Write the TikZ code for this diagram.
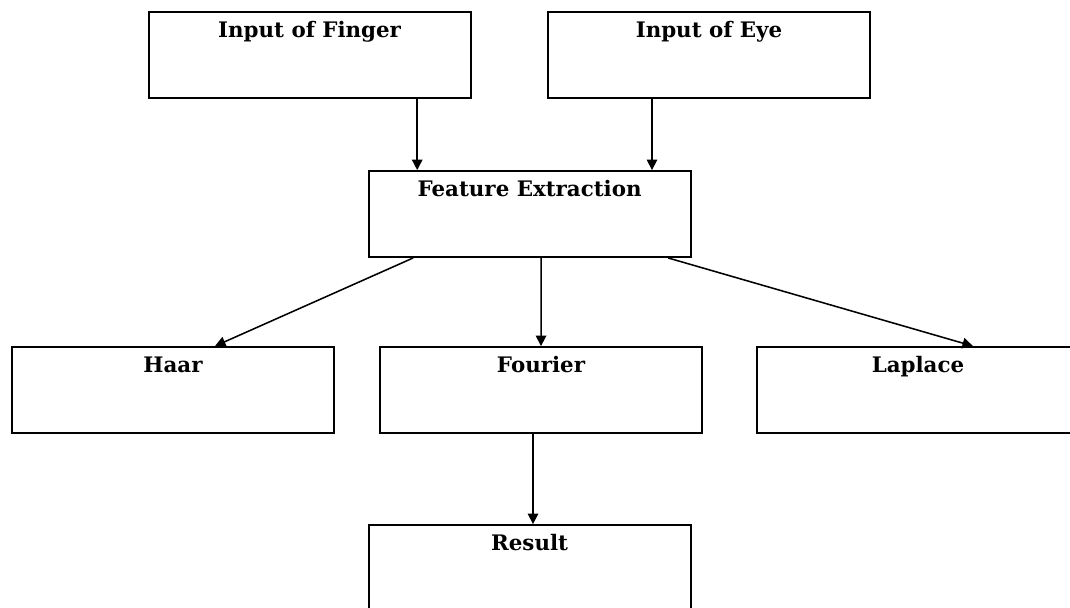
\documentclass[tikz,border=0pt]{standalone}
\usepackage{fontspec}
\setmainfont{DejaVu Serif}
\usetikzlibrary{arrows.meta,positioning,calc}

\begin{document}
\begin{tikzpicture}[font=\fontsize{15.2}{17}\selectfont\bfseries, >={Triangle[length=7.5pt,width=7.5pt]},
  blk/.style={draw, line width=1.3pt, minimum width=8.05cm, minimum height=2.15cm,
    inner sep=0pt, text height=0.625cm, text depth=1.525cm, align=center},
  arr/.style={->, line width=1.1pt}]
  \useasboundingbox (0,0) rectangle (26.75,-15.175);
  \clip (0,0) rectangle (26.75,-15.175);
  \node[blk] (finger) at (7.74,-1.375) {Input of Finger};
  \node[blk] (eye) at (17.725,-1.375) {Input of Eye};
  \node[blk] (feat) at (13.24,-5.35) {Feature Extraction};
  \node[blk] (haar) at (4.325,-9.75) {Haar};
  \node[blk] (fourier) at (13.525,-9.75) {Fourier};
  \node[blk] (laplace) at (22.95,-9.75) {Laplace};
  \node[blk] (result) at (13.24,-14.2) {Result};
  % edges
  \draw[arr] ([xshift=2.69cm]finger.south) -- ([xshift=2.69cm]finger.south |- feat.north);
  \draw[arr] ([xshift=-1.425cm]eye.south) -- ([xshift=-1.425cm]eye.south |- feat.north);
  \draw[arr] ([xshift=-2.91cm]feat.south) -- ([xshift=1.05cm]haar.north);
  \draw[arr] ([xshift=0.29cm]feat.south) -- (fourier.north);
  \draw[arr] ([xshift=3.46cm]feat.south) -- ([xshift=1.375cm]laplace.north);
  \draw[arr] ([xshift=-0.2cm]fourier.south) -- ([xshift=-0.2cm]fourier.south |- result.north);
\end{tikzpicture}
\end{document}
